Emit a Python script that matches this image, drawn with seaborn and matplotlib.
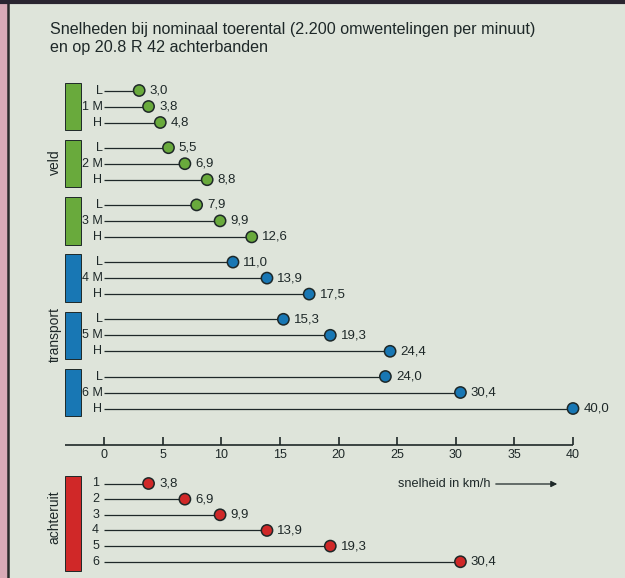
import pandas as pd
import matplotlib.pyplot as plt
import seaborn as sns
from matplotlib.patches import Rectangle

# snelheden in km/h bij 2.200 omw/min
versnellingen = [1, 2, 3, 4, 5, 6]
groepen = ["veld", "veld", "veld", "transport", "transport", "transport"]
snel_L = [3.0, 5.5, 7.9, 11.0, 15.3, 24.0]
snel_M = [3.8, 6.9, 9.9, 13.9, 19.3, 30.4]
snel_H = [4.8, 8.8, 12.6, 17.5, 24.4, 40.0]
achteruit = [3.8, 6.9, 9.9, 13.9, 19.3, 30.4]
ticks = [0, 5, 10, 15, 20, 25, 30, 35, 40]

kleuren = {"veld": "#69aa3c", "transport": "#1877b4", "achteruit": "#d02828"}
achtergrond = "#dee4da"
inkt = "#1e2828"

# opbouw tabel
rijen = []
for i, g in enumerate(versnellingen):
    for j, (bereik, waarden) in enumerate(zip(["L", "M", "H"], [snel_L, snel_M, snel_H])):
        label = f"{g} M" if bereik == "M" else bereik
        rijen.append({"label": label, "snelheid": waarden[i], "groep": groepen[i],
                      "y": 90.5 + i * 57.2 + j * 16.0, "lx": 102.5})
for i, v in enumerate(achteruit):
    rijen.append({"label": str(i + 1), "snelheid": v, "groep": "achteruit",
                  "y": 483.5 + i * 15.65, "lx": 99})
df = pd.DataFrame(rijen)

sns.set_style("white")
plt.rcParams["font.family"] = ["Liberation Sans", "DejaVu Sans"]

W, H = 625, 578
x0, schaal = 104, 469 / 40  # pixel van 0 km/h en pixels per km/h


def px(p):
    return (p - x0) / schaal


fig = plt.figure(figsize=(W / 100, H / 100), dpi=100, facecolor=achtergrond)
ax = fig.add_axes([0, 0, 1, 1])
ax.set_facecolor(achtergrond)
ax.set_xlim(px(0), px(W))
ax.set_ylim(H, 0)
ax.axis("off")

# rand: roze strook links, donkere lijn links en boven
ax.add_patch(Rectangle((px(0), 0), px(6.5) - px(0), H, color="#d9aab6", zorder=0))
ax.vlines(px(8), 0, H, color="#2a2a2a", lw=1.8, zorder=1)
ax.hlines(1.5, px(0), px(W), color="#2a2530", lw=3.0, zorder=1)

# titel
ax.text(px(50), 38.5, "Snelheden bij nominaal toerental (2.200 omwentelingen per minuut)\n"
        "en op 20.8 R 42 achterbanden", fontsize=11.6, color=inkt, va="center",
        ha="left", linespacing=1.2)

# stelen
ax.hlines(df["y"], 0, df["snelheid"], color=inkt, lw=0.9, zorder=2)
sns.scatterplot(data=df, x="snelheid", y="y", hue="groep", palette=kleuren, s=66,
                edgecolor=inkt, linewidth=1.1, legend=False, zorder=3, ax=ax)

for _, r in df.iterrows():
    ax.annotate(f"{r['snelheid']:.1f}".replace(".", ","), (r["snelheid"], r["y"]),
                xytext=(7.5, 0), textcoords="offset points", fontsize=9.5,
                color=inkt, va="center", ha="left")
    ax.text(px(r["lx"]), r["y"], r["label"], fontsize=9, color=inkt, va="center",
            ha="right")

# gekleurde blokken per versnelling
for i in range(6):
    top = 82.7 + i * 57.2
    ax.add_patch(Rectangle((px(65), top), px(80.5) - px(65), 47.5,
                           facecolor=kleuren[groepen[i]], edgecolor=inkt, lw=0.7, zorder=2))
ax.add_patch(Rectangle((px(65), 475.5), px(80.5) - px(65), 95,
                       facecolor=kleuren["achteruit"], edgecolor=inkt, lw=0.7, zorder=2))

for tekst, yc in [("veld", 162), ("transport", 334), ("achteruit", 517)]:
    ax.text(px(54.5), yc, tekst, rotation=90, fontsize=10, color=inkt, ha="center",
            va="center")

# schaalas
ax.hlines(445, px(65), 40, color=inkt, lw=1.2)
for t in ticks:
    ax.vlines(t, 436.5, 445, color=inkt, lw=1.2)
    ax.text(t, 455, str(t), fontsize=9, color=inkt, ha="center", va="center")

ax.text(px(398), 484, "snelheid in km/h", fontsize=9.2, color=inkt, ha="left",
        va="center")
ax.annotate("", xy=(px(560), 484), xytext=(px(493), 484),
            arrowprops=dict(arrowstyle="-|>", color=inkt, lw=0.9, mutation_scale=9))

fig.savefig("out.png", dpi=100, facecolor=achtergrond)
